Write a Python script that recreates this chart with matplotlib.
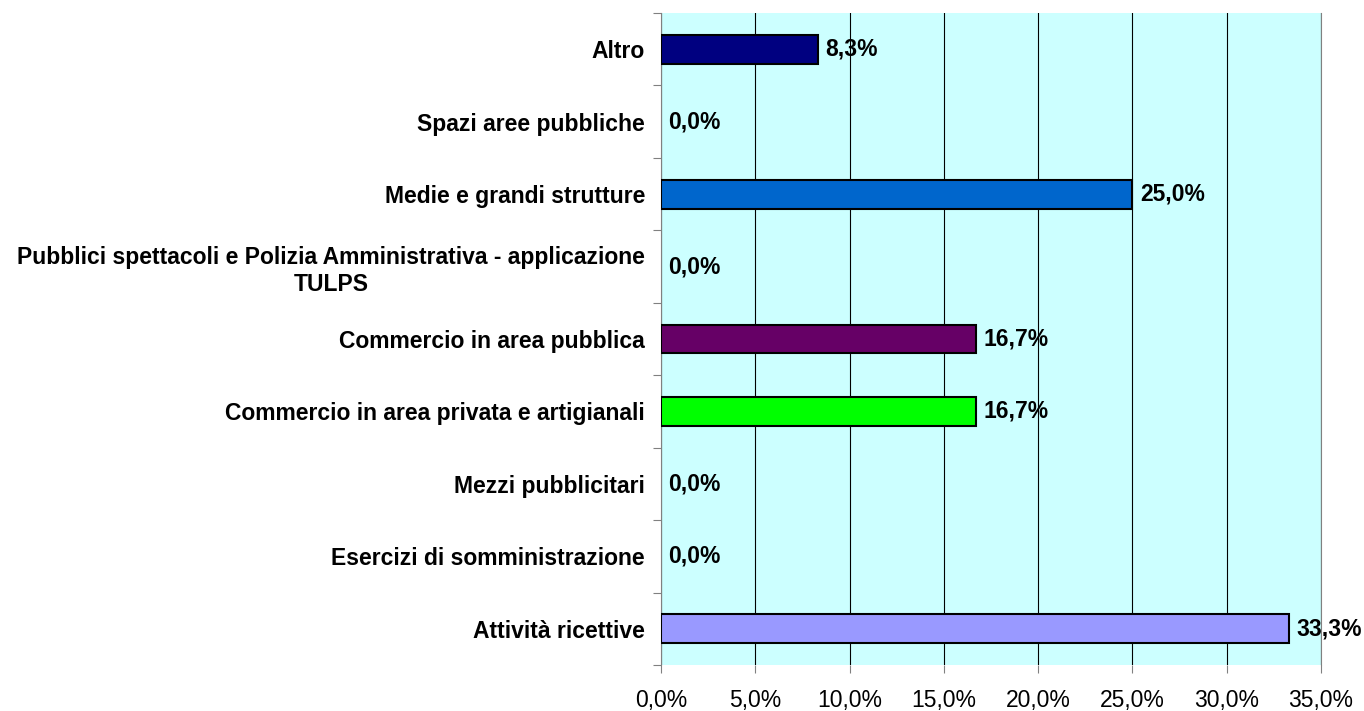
import matplotlib.pyplot as plt
from matplotlib.ticker import MultipleLocator, FixedLocator, FuncFormatter

plt.rcParams['font.family'] = ['Liberation Sans', 'DejaVu Sans']

# dati (dal basso verso l'alto)
categorie = ["Attività ricettive",
             "Esercizi di somministrazione",
             "Mezzi pubblicitari",
             "Commercio in area privata e artigianali",
             "Commercio in area pubblica",
             "Pubblici spettacoli e Polizia Amministrativa - applicazione\nTULPS",
             "Medie e grandi strutture",
             "Spazi aree pubbliche",
             "Altro"]
valori = [33.3, 0.0, 0.0, 16.7, 16.7, 0.0, 25.0, 0.0, 8.3]
colori = ["#9999FF", "#993366", "#FFFFCC", "#00FF00", "#660066",
          "#FF8080", "#0066CC", "#CCCCFF", "#000080"]

fs = 16.5

fig = plt.figure(figsize=(13.64, 7.11), dpi=100)
ax = fig.add_axes([0.4846, 0.0647, 0.4839, 0.917])
ax.set_facecolor("#CCFFFF")

y = list(range(len(categorie)))
bordi = [1.5 if v > 0 else 0 for v in valori]
ax.barh(y, valori, height=0.4, color=colori, edgecolor="black", linewidth=bordi, zorder=3)

for yi, v in zip(y, valori):
    ax.text(v + 0.4, yi, f"{v:.1f}%".replace(".", ","), va="center", ha="left",
            fontsize=fs, fontweight="bold", zorder=4)

ax.set_xlim(0, 35)
ax.set_ylim(-0.5, len(categorie) - 0.5)
ax.xaxis.set_major_locator(MultipleLocator(5))
ax.xaxis.set_major_formatter(FuncFormatter(lambda x, p: f"{x:.1f}%".replace(".", ",")))
ax.grid(axis="x", color="black", linewidth=0.8, zorder=1)

# tacche ai confini delle categorie, etichette al centro
ax.yaxis.set_major_locator(FixedLocator([i - 0.5 for i in range(len(categorie) + 1)]))
ax.yaxis.set_major_formatter(FuncFormatter(lambda x, p: ""))
ax.yaxis.set_minor_locator(FixedLocator(y))
ax.set_yticklabels(categorie, minor=True)
ax.tick_params(axis="y", which="major", length=6, color="#808080", direction="out")
ax.tick_params(axis="y", which="minor", length=0, pad=11.5, labelsize=fs)
for t in ax.get_yticklabels(minor=True):
    t.set_fontweight("bold")
    t.set_multialignment("center")
ax.tick_params(axis="x", length=6, color="#808080", pad=11, labelsize=fs)

for s in ["top", "bottom"]:
    ax.spines[s].set_visible(False)
for s in ["left", "right"]:
    ax.spines[s].set_color("#808080")

fig.savefig("out.png", dpi=100)
